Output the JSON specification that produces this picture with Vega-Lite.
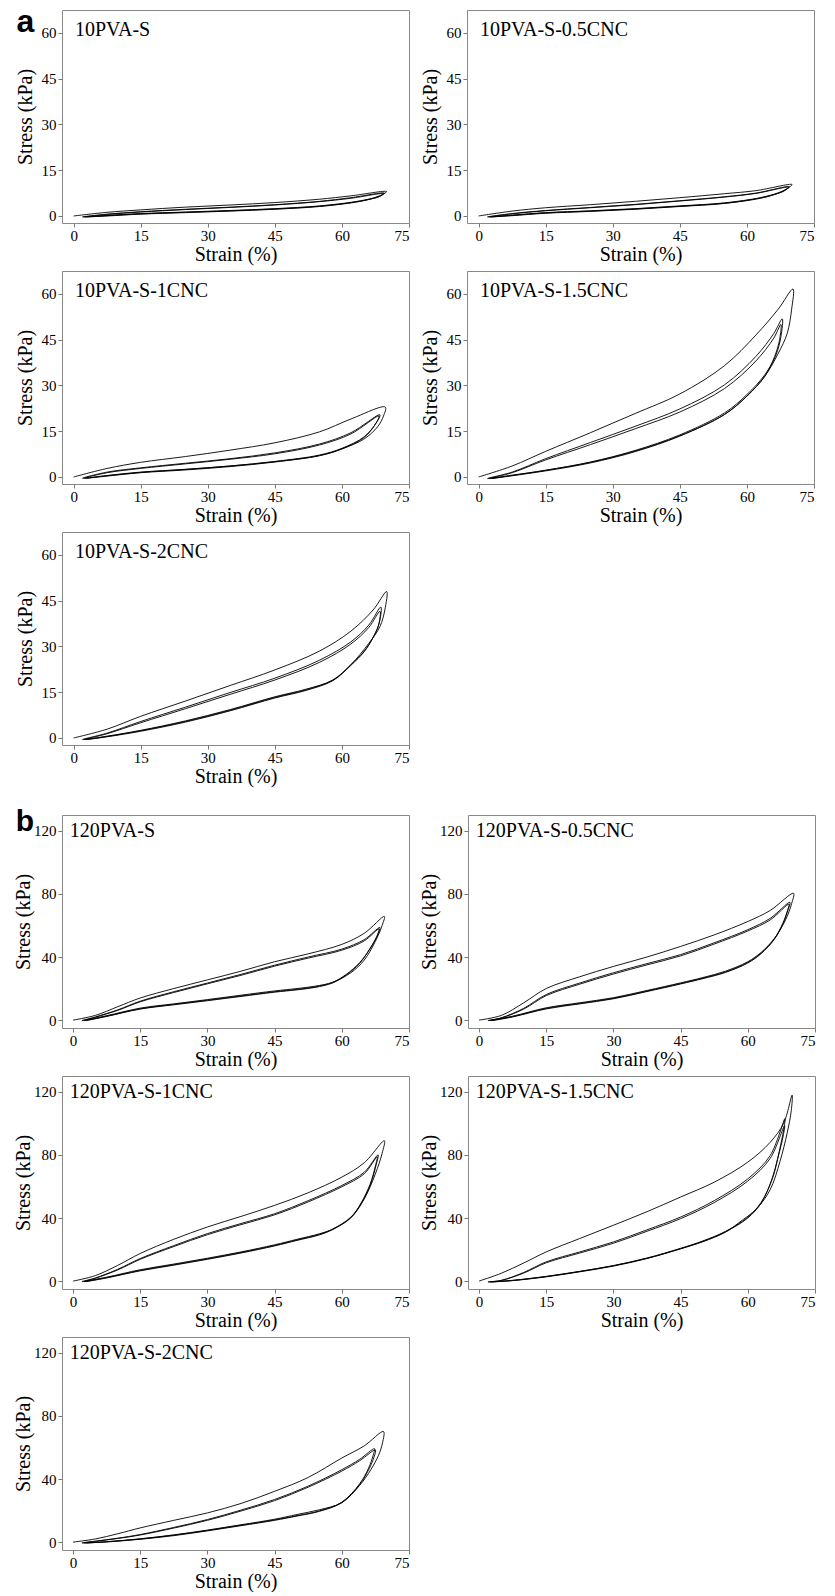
{
"$schema": "https://vega.github.io/schema/vega-lite/v6.json",
"padding": {"left": 13, "top": 5, "right": 3, "bottom": 0},
"background": "white",
"config": {
  "font": "Liberation Serif",
  "view": {"stroke": "#888888", "strokeWidth": 1},
  "axis": {"domain": false, "grid": false, "tickColor": "#777777", "tickSize": 4, "labelFont": "Liberation Serif", "labelFontSize": 15, "labelColor": "#000000", "titleFont": "Liberation Serif", "titleFontSize": 20, "titleFontWeight": "normal", "titleColor": "#000000", "labelPadding": 2, "titlePadding": 3},
  "axisX": {"labelPadding": 1, "titlePadding": 1},
  "line": {"interpolate": "catmull-rom", "stroke": "#000000", "strokeWidth": 0.9},
  "text": {"align": "left", "baseline": "alphabetic", "font": "Liberation Serif", "fontSize": 20, "color": "#000000"}
},
"datasets": {"d": [
{"g":"a","s":"10PVA-S","o":1,"x":0,"y":0},{"g":"a","s":"10PVA-S","o":2,"x":7.5,"y":1.2},{"g":"a","s":"10PVA-S","o":3,"x":15,"y":2.0},{"g":"a","s":"10PVA-S","o":4,"x":25,"y":2.9},{"g":"a","s":"10PVA-S","o":5,"x":35,"y":3.6},{"g":"a","s":"10PVA-S","o":6,"x":45,"y":4.4},{"g":"a","s":"10PVA-S","o":7,"x":55,"y":5.5},{"g":"a","s":"10PVA-S","o":8,"x":62,"y":6.6},{"g":"a","s":"10PVA-S","o":9,"x":70,"y":8.0},{"g":"a","s":"10PVA-S","o":10,"x":69,"y":7.0},{"g":"a","s":"10PVA-S","o":11,"x":67,"y":5.9},{"g":"a","s":"10PVA-S","o":12,"x":63,"y":4.7},{"g":"a","s":"10PVA-S","o":13,"x":55,"y":3.3},{"g":"a","s":"10PVA-S","o":14,"x":45,"y":2.4},{"g":"a","s":"10PVA-S","o":15,"x":35,"y":1.8},{"g":"a","s":"10PVA-S","o":16,"x":25,"y":1.3},{"g":"a","s":"10PVA-S","o":17,"x":15,"y":0.8},{"g":"a","s":"10PVA-S","o":18,"x":7.5,"y":0.2},{"g":"a","s":"10PVA-S","o":19,"x":2,"y":-0.3},
{"g":"a","s":"10PVA-S","o":20,"x":7.5,"y":0.6},{"g":"a","s":"10PVA-S","o":21,"x":15,"y":1.4},{"g":"a","s":"10PVA-S","o":22,"x":25,"y":2.2},{"g":"a","s":"10PVA-S","o":23,"x":35,"y":2.9},{"g":"a","s":"10PVA-S","o":24,"x":45,"y":3.7},{"g":"a","s":"10PVA-S","o":25,"x":55,"y":4.8},{"g":"a","s":"10PVA-S","o":26,"x":62,"y":6.0},{"g":"a","s":"10PVA-S","o":27,"x":69.5,"y":7.5},{"g":"a","s":"10PVA-S","o":28,"x":68.5,"y":6.5},{"g":"a","s":"10PVA-S","o":29,"x":66.5,"y":5.6},{"g":"a","s":"10PVA-S","o":30,"x":63,"y":4.6},{"g":"a","s":"10PVA-S","o":31,"x":55,"y":3.2},{"g":"a","s":"10PVA-S","o":32,"x":45,"y":2.3},{"g":"a","s":"10PVA-S","o":33,"x":35,"y":1.7},{"g":"a","s":"10PVA-S","o":34,"x":25,"y":1.2},{"g":"a","s":"10PVA-S","o":35,"x":15,"y":0.7},{"g":"a","s":"10PVA-S","o":36,"x":7.5,"y":0.1},{"g":"a","s":"10PVA-S","o":37,"x":2.5,"y":-0.3},
{"g":"a","s":"10PVA-S","o":38,"x":7.5,"y":0.5},{"g":"a","s":"10PVA-S","o":39,"x":15,"y":1.3},{"g":"a","s":"10PVA-S","o":40,"x":25,"y":2.1},{"g":"a","s":"10PVA-S","o":41,"x":35,"y":2.8},{"g":"a","s":"10PVA-S","o":42,"x":45,"y":3.6},{"g":"a","s":"10PVA-S","o":43,"x":55,"y":4.7},{"g":"a","s":"10PVA-S","o":44,"x":62,"y":5.8},{"g":"a","s":"10PVA-S","o":45,"x":69.3,"y":7.3},{"g":"a","s":"10PVA-S","o":46,"x":68.3,"y":6.3},{"g":"a","s":"10PVA-S","o":47,"x":66.3,"y":5.5},{"g":"a","s":"10PVA-S","o":48,"x":63,"y":4.5},{"g":"a","s":"10PVA-S","o":49,"x":55,"y":3.1},{"g":"a","s":"10PVA-S","o":50,"x":45,"y":2.2},{"g":"a","s":"10PVA-S","o":51,"x":35,"y":1.6},{"g":"a","s":"10PVA-S","o":52,"x":25,"y":1.1},{"g":"a","s":"10PVA-S","o":53,"x":15,"y":0.6},{"g":"a","s":"10PVA-S","o":54,"x":7.5,"y":0.0},{"g":"a","s":"10PVA-S","o":55,"x":3,"y":-0.3},

{"g":"a","s":"10PVA-S-0.5CNC","o":1,"x":0,"y":0},{"g":"a","s":"10PVA-S-0.5CNC","o":2,"x":7.5,"y":1.6},{"g":"a","s":"10PVA-S-0.5CNC","o":3,"x":15,"y":2.7},{"g":"a","s":"10PVA-S-0.5CNC","o":4,"x":25,"y":3.7},{"g":"a","s":"10PVA-S-0.5CNC","o":5,"x":35,"y":4.8},{"g":"a","s":"10PVA-S-0.5CNC","o":6,"x":45,"y":6.0},{"g":"a","s":"10PVA-S-0.5CNC","o":7,"x":55,"y":7.3},{"g":"a","s":"10PVA-S-0.5CNC","o":8,"x":62,"y":8.3},{"g":"a","s":"10PVA-S-0.5CNC","o":9,"x":70.1,"y":10.3},{"g":"a","s":"10PVA-S-0.5CNC","o":10,"x":69,"y":9.0},{"g":"a","s":"10PVA-S-0.5CNC","o":11,"x":67,"y":7.6},{"g":"a","s":"10PVA-S-0.5CNC","o":12,"x":63,"y":6.0},{"g":"a","s":"10PVA-S-0.5CNC","o":13,"x":55,"y":4.3},{"g":"a","s":"10PVA-S-0.5CNC","o":14,"x":45,"y":3.3},{"g":"a","s":"10PVA-S-0.5CNC","o":15,"x":35,"y":2.4},{"g":"a","s":"10PVA-S-0.5CNC","o":16,"x":25,"y":1.7},{"g":"a","s":"10PVA-S-0.5CNC","o":17,"x":15,"y":1.1},{"g":"a","s":"10PVA-S-0.5CNC","o":18,"x":7.5,"y":0.3},{"g":"a","s":"10PVA-S-0.5CNC","o":19,"x":2,"y":-0.3},
{"g":"a","s":"10PVA-S-0.5CNC","o":20,"x":7.5,"y":0.8},{"g":"a","s":"10PVA-S-0.5CNC","o":21,"x":15,"y":1.8},{"g":"a","s":"10PVA-S-0.5CNC","o":22,"x":25,"y":2.8},{"g":"a","s":"10PVA-S-0.5CNC","o":23,"x":35,"y":3.8},{"g":"a","s":"10PVA-S-0.5CNC","o":24,"x":45,"y":5.0},{"g":"a","s":"10PVA-S-0.5CNC","o":25,"x":55,"y":6.3},{"g":"a","s":"10PVA-S-0.5CNC","o":26,"x":62,"y":7.5},{"g":"a","s":"10PVA-S-0.5CNC","o":27,"x":69.5,"y":9.6},{"g":"a","s":"10PVA-S-0.5CNC","o":28,"x":68.5,"y":8.4},{"g":"a","s":"10PVA-S-0.5CNC","o":29,"x":66.5,"y":7.2},{"g":"a","s":"10PVA-S-0.5CNC","o":30,"x":63,"y":5.9},{"g":"a","s":"10PVA-S-0.5CNC","o":31,"x":55,"y":4.2},{"g":"a","s":"10PVA-S-0.5CNC","o":32,"x":45,"y":3.2},{"g":"a","s":"10PVA-S-0.5CNC","o":33,"x":35,"y":2.3},{"g":"a","s":"10PVA-S-0.5CNC","o":34,"x":25,"y":1.6},{"g":"a","s":"10PVA-S-0.5CNC","o":35,"x":15,"y":1.0},{"g":"a","s":"10PVA-S-0.5CNC","o":36,"x":7.5,"y":0.2},{"g":"a","s":"10PVA-S-0.5CNC","o":37,"x":2.5,"y":-0.3},
{"g":"a","s":"10PVA-S-0.5CNC","o":38,"x":7.5,"y":0.7},{"g":"a","s":"10PVA-S-0.5CNC","o":39,"x":15,"y":1.7},{"g":"a","s":"10PVA-S-0.5CNC","o":40,"x":25,"y":2.7},{"g":"a","s":"10PVA-S-0.5CNC","o":41,"x":35,"y":3.7},{"g":"a","s":"10PVA-S-0.5CNC","o":42,"x":45,"y":4.9},{"g":"a","s":"10PVA-S-0.5CNC","o":43,"x":55,"y":6.2},{"g":"a","s":"10PVA-S-0.5CNC","o":44,"x":62,"y":7.4},{"g":"a","s":"10PVA-S-0.5CNC","o":45,"x":69.3,"y":9.4},{"g":"a","s":"10PVA-S-0.5CNC","o":46,"x":68.3,"y":8.2},{"g":"a","s":"10PVA-S-0.5CNC","o":47,"x":66.3,"y":7.1},{"g":"a","s":"10PVA-S-0.5CNC","o":48,"x":63,"y":5.8},{"g":"a","s":"10PVA-S-0.5CNC","o":49,"x":55,"y":4.1},{"g":"a","s":"10PVA-S-0.5CNC","o":50,"x":45,"y":3.1},{"g":"a","s":"10PVA-S-0.5CNC","o":51,"x":35,"y":2.2},{"g":"a","s":"10PVA-S-0.5CNC","o":52,"x":25,"y":1.5},{"g":"a","s":"10PVA-S-0.5CNC","o":53,"x":15,"y":0.9},{"g":"a","s":"10PVA-S-0.5CNC","o":54,"x":7.5,"y":0.1},{"g":"a","s":"10PVA-S-0.5CNC","o":55,"x":3,"y":-0.3},

{"g":"a","s":"10PVA-S-1CNC","o":1,"x":0,"y":0},{"g":"a","s":"10PVA-S-1CNC","o":2,"x":7.5,"y":2.8},{"g":"a","s":"10PVA-S-1CNC","o":3,"x":15,"y":4.8},{"g":"a","s":"10PVA-S-1CNC","o":4,"x":25,"y":6.7},{"g":"a","s":"10PVA-S-1CNC","o":5,"x":35,"y":8.8},{"g":"a","s":"10PVA-S-1CNC","o":6,"x":45,"y":11.2},{"g":"a","s":"10PVA-S-1CNC","o":7,"x":55,"y":14.8},{"g":"a","s":"10PVA-S-1CNC","o":8,"x":62,"y":19.0},{"g":"a","s":"10PVA-S-1CNC","o":9,"x":69.7,"y":22.9},{"g":"a","s":"10PVA-S-1CNC","o":10,"x":69.3,"y":20.0},{"g":"a","s":"10PVA-S-1CNC","o":11,"x":68,"y":16.5},{"g":"a","s":"10PVA-S-1CNC","o":12,"x":65,"y":12.5},{"g":"a","s":"10PVA-S-1CNC","o":13,"x":60,"y":9.2},{"g":"a","s":"10PVA-S-1CNC","o":14,"x":55,"y":7.0},{"g":"a","s":"10PVA-S-1CNC","o":15,"x":45,"y":5.0},{"g":"a","s":"10PVA-S-1CNC","o":16,"x":35,"y":3.6},{"g":"a","s":"10PVA-S-1CNC","o":17,"x":25,"y":2.5},{"g":"a","s":"10PVA-S-1CNC","o":18,"x":15,"y":1.6},{"g":"a","s":"10PVA-S-1CNC","o":19,"x":7.5,"y":0.5},{"g":"a","s":"10PVA-S-1CNC","o":20,"x":2,"y":-0.4},
{"g":"a","s":"10PVA-S-1CNC","o":21,"x":7.5,"y":1.6},{"g":"a","s":"10PVA-S-1CNC","o":22,"x":15,"y":3.0},{"g":"a","s":"10PVA-S-1CNC","o":23,"x":25,"y":4.5},{"g":"a","s":"10PVA-S-1CNC","o":24,"x":35,"y":6.0},{"g":"a","s":"10PVA-S-1CNC","o":25,"x":45,"y":7.9},{"g":"a","s":"10PVA-S-1CNC","o":26,"x":55,"y":10.8},{"g":"a","s":"10PVA-S-1CNC","o":27,"x":62,"y":14.5},{"g":"a","s":"10PVA-S-1CNC","o":28,"x":68.5,"y":20.4},{"g":"a","s":"10PVA-S-1CNC","o":29,"x":67.8,"y":18.0},{"g":"a","s":"10PVA-S-1CNC","o":30,"x":65,"y":13.2},{"g":"a","s":"10PVA-S-1CNC","o":31,"x":60,"y":9.4},{"g":"a","s":"10PVA-S-1CNC","o":32,"x":55,"y":7.2},{"g":"a","s":"10PVA-S-1CNC","o":33,"x":45,"y":5.1},{"g":"a","s":"10PVA-S-1CNC","o":34,"x":35,"y":3.6},{"g":"a","s":"10PVA-S-1CNC","o":35,"x":25,"y":2.5},{"g":"a","s":"10PVA-S-1CNC","o":36,"x":15,"y":1.5},{"g":"a","s":"10PVA-S-1CNC","o":37,"x":7.5,"y":0.4},{"g":"a","s":"10PVA-S-1CNC","o":38,"x":2.5,"y":-0.4},
{"g":"a","s":"10PVA-S-1CNC","o":39,"x":7.5,"y":1.4},{"g":"a","s":"10PVA-S-1CNC","o":40,"x":15,"y":2.8},{"g":"a","s":"10PVA-S-1CNC","o":41,"x":25,"y":4.3},{"g":"a","s":"10PVA-S-1CNC","o":42,"x":35,"y":5.8},{"g":"a","s":"10PVA-S-1CNC","o":43,"x":45,"y":7.6},{"g":"a","s":"10PVA-S-1CNC","o":44,"x":55,"y":10.5},{"g":"a","s":"10PVA-S-1CNC","o":45,"x":62,"y":14.1},{"g":"a","s":"10PVA-S-1CNC","o":46,"x":68.3,"y":20.0},{"g":"a","s":"10PVA-S-1CNC","o":47,"x":67.6,"y":17.6},{"g":"a","s":"10PVA-S-1CNC","o":48,"x":65,"y":13.0},{"g":"a","s":"10PVA-S-1CNC","o":49,"x":60,"y":9.2},{"g":"a","s":"10PVA-S-1CNC","o":50,"x":55,"y":7.0},{"g":"a","s":"10PVA-S-1CNC","o":51,"x":45,"y":4.9},{"g":"a","s":"10PVA-S-1CNC","o":52,"x":35,"y":3.4},{"g":"a","s":"10PVA-S-1CNC","o":53,"x":25,"y":2.3},{"g":"a","s":"10PVA-S-1CNC","o":54,"x":15,"y":1.4},{"g":"a","s":"10PVA-S-1CNC","o":55,"x":7.5,"y":0.3},{"g":"a","s":"10PVA-S-1CNC","o":56,"x":3,"y":-0.4},

{"g":"a","s":"10PVA-S-1.5CNC","o":1,"x":0,"y":0},{"g":"a","s":"10PVA-S-1.5CNC","o":2,"x":7.5,"y":3.6},{"g":"a","s":"10PVA-S-1.5CNC","o":3,"x":15,"y":8.4},{"g":"a","s":"10PVA-S-1.5CNC","o":4,"x":25,"y":14.5},{"g":"a","s":"10PVA-S-1.5CNC","o":5,"x":35,"y":20.8},{"g":"a","s":"10PVA-S-1.5CNC","o":6,"x":45,"y":27.2},{"g":"a","s":"10PVA-S-1.5CNC","o":7,"x":55,"y":36.5},{"g":"a","s":"10PVA-S-1.5CNC","o":8,"x":62,"y":46.5},{"g":"a","s":"10PVA-S-1.5CNC","o":9,"x":67,"y":55},{"g":"a","s":"10PVA-S-1.5CNC","o":10,"x":70.3,"y":61.6},{"g":"a","s":"10PVA-S-1.5CNC","o":11,"x":70,"y":55},{"g":"a","s":"10PVA-S-1.5CNC","o":12,"x":69,"y":47},{"g":"a","s":"10PVA-S-1.5CNC","o":13,"x":67,"y":40.5},{"g":"a","s":"10PVA-S-1.5CNC","o":14,"x":64,"y":33},{"g":"a","s":"10PVA-S-1.5CNC","o":15,"x":60,"y":26.5},{"g":"a","s":"10PVA-S-1.5CNC","o":16,"x":55,"y":20.5},{"g":"a","s":"10PVA-S-1.5CNC","o":17,"x":45,"y":13.5},{"g":"a","s":"10PVA-S-1.5CNC","o":18,"x":35,"y":8.5},{"g":"a","s":"10PVA-S-1.5CNC","o":19,"x":25,"y":4.8},{"g":"a","s":"10PVA-S-1.5CNC","o":20,"x":15,"y":2.2},{"g":"a","s":"10PVA-S-1.5CNC","o":21,"x":7.5,"y":0.6},{"g":"a","s":"10PVA-S-1.5CNC","o":22,"x":2,"y":-0.5},
{"g":"a","s":"10PVA-S-1.5CNC","o":23,"x":7.5,"y":1.6},{"g":"a","s":"10PVA-S-1.5CNC","o":24,"x":15,"y":6.0},{"g":"a","s":"10PVA-S-1.5CNC","o":25,"x":25,"y":11.3},{"g":"a","s":"10PVA-S-1.5CNC","o":26,"x":35,"y":16.6},{"g":"a","s":"10PVA-S-1.5CNC","o":27,"x":45,"y":22.3},{"g":"a","s":"10PVA-S-1.5CNC","o":28,"x":55,"y":30.2},{"g":"a","s":"10PVA-S-1.5CNC","o":29,"x":62,"y":39.5},{"g":"a","s":"10PVA-S-1.5CNC","o":30,"x":66,"y":47},{"g":"a","s":"10PVA-S-1.5CNC","o":31,"x":67.9,"y":51.8},{"g":"a","s":"10PVA-S-1.5CNC","o":32,"x":67.6,"y":46},{"g":"a","s":"10PVA-S-1.5CNC","o":33,"x":66.5,"y":40},{"g":"a","s":"10PVA-S-1.5CNC","o":34,"x":64,"y":33.5},{"g":"a","s":"10PVA-S-1.5CNC","o":35,"x":60,"y":27},{"g":"a","s":"10PVA-S-1.5CNC","o":36,"x":55,"y":21},{"g":"a","s":"10PVA-S-1.5CNC","o":37,"x":45,"y":13.8},{"g":"a","s":"10PVA-S-1.5CNC","o":38,"x":35,"y":8.7},{"g":"a","s":"10PVA-S-1.5CNC","o":39,"x":25,"y":4.9},{"g":"a","s":"10PVA-S-1.5CNC","o":40,"x":15,"y":2.2},{"g":"a","s":"10PVA-S-1.5CNC","o":41,"x":7.5,"y":0.5},{"g":"a","s":"10PVA-S-1.5CNC","o":42,"x":2.5,"y":-0.5},
{"g":"a","s":"10PVA-S-1.5CNC","o":43,"x":7.5,"y":1.4},{"g":"a","s":"10PVA-S-1.5CNC","o":44,"x":15,"y":5.6},{"g":"a","s":"10PVA-S-1.5CNC","o":45,"x":25,"y":10.6},{"g":"a","s":"10PVA-S-1.5CNC","o":46,"x":35,"y":15.8},{"g":"a","s":"10PVA-S-1.5CNC","o":47,"x":45,"y":21.3},{"g":"a","s":"10PVA-S-1.5CNC","o":48,"x":55,"y":29},{"g":"a","s":"10PVA-S-1.5CNC","o":49,"x":62,"y":38},{"g":"a","s":"10PVA-S-1.5CNC","o":50,"x":66,"y":45.5},{"g":"a","s":"10PVA-S-1.5CNC","o":51,"x":67.6,"y":50},{"g":"a","s":"10PVA-S-1.5CNC","o":52,"x":67.3,"y":45},{"g":"a","s":"10PVA-S-1.5CNC","o":53,"x":66.2,"y":39.5},{"g":"a","s":"10PVA-S-1.5CNC","o":54,"x":64,"y":33},{"g":"a","s":"10PVA-S-1.5CNC","o":55,"x":60,"y":26.5},{"g":"a","s":"10PVA-S-1.5CNC","o":56,"x":55,"y":20.5},{"g":"a","s":"10PVA-S-1.5CNC","o":57,"x":45,"y":13.4},{"g":"a","s":"10PVA-S-1.5CNC","o":58,"x":35,"y":8.3},{"g":"a","s":"10PVA-S-1.5CNC","o":59,"x":25,"y":4.6},{"g":"a","s":"10PVA-S-1.5CNC","o":60,"x":15,"y":2.0},{"g":"a","s":"10PVA-S-1.5CNC","o":61,"x":7.5,"y":0.4},{"g":"a","s":"10PVA-S-1.5CNC","o":62,"x":3,"y":-0.5},

{"g":"a","s":"10PVA-S-2CNC","o":1,"x":0,"y":0},{"g":"a","s":"10PVA-S-2CNC","o":2,"x":7.5,"y":2.9},{"g":"a","s":"10PVA-S-2CNC","o":3,"x":15,"y":7.1},{"g":"a","s":"10PVA-S-2CNC","o":4,"x":25,"y":12.1},{"g":"a","s":"10PVA-S-2CNC","o":5,"x":35,"y":17.2},{"g":"a","s":"10PVA-S-2CNC","o":6,"x":45,"y":22.3},{"g":"a","s":"10PVA-S-2CNC","o":7,"x":55,"y":28.5},{"g":"a","s":"10PVA-S-2CNC","o":8,"x":62,"y":35},{"g":"a","s":"10PVA-S-2CNC","o":9,"x":67,"y":42},{"g":"a","s":"10PVA-S-2CNC","o":10,"x":70,"y":48},{"g":"a","s":"10PVA-S-2CNC","o":11,"x":69.6,"y":42},{"g":"a","s":"10PVA-S-2CNC","o":12,"x":68.5,"y":36.5},{"g":"a","s":"10PVA-S-2CNC","o":13,"x":66,"y":31},{"g":"a","s":"10PVA-S-2CNC","o":14,"x":62,"y":24},{"g":"a","s":"10PVA-S-2CNC","o":15,"x":58,"y":19},{"g":"a","s":"10PVA-S-2CNC","o":16,"x":52,"y":16},{"g":"a","s":"10PVA-S-2CNC","o":17,"x":45,"y":13.5},{"g":"a","s":"10PVA-S-2CNC","o":18,"x":35,"y":9.3},{"g":"a","s":"10PVA-S-2CNC","o":19,"x":25,"y":5.6},{"g":"a","s":"10PVA-S-2CNC","o":20,"x":15,"y":2.5},{"g":"a","s":"10PVA-S-2CNC","o":21,"x":7.5,"y":0.6},{"g":"a","s":"10PVA-S-2CNC","o":22,"x":2,"y":-0.5},
{"g":"a","s":"10PVA-S-2CNC","o":23,"x":7.5,"y":1.6},{"g":"a","s":"10PVA-S-2CNC","o":24,"x":15,"y":5.4},{"g":"a","s":"10PVA-S-2CNC","o":25,"x":25,"y":10.1},{"g":"a","s":"10PVA-S-2CNC","o":26,"x":35,"y":14.9},{"g":"a","s":"10PVA-S-2CNC","o":27,"x":45,"y":19.6},{"g":"a","s":"10PVA-S-2CNC","o":28,"x":55,"y":25.5},{"g":"a","s":"10PVA-S-2CNC","o":29,"x":62,"y":31.5},{"g":"a","s":"10PVA-S-2CNC","o":30,"x":66,"y":37},{"g":"a","s":"10PVA-S-2CNC","o":31,"x":68.7,"y":42.9},{"g":"a","s":"10PVA-S-2CNC","o":32,"x":68.4,"y":38},{"g":"a","s":"10PVA-S-2CNC","o":33,"x":67,"y":33},{"g":"a","s":"10PVA-S-2CNC","o":34,"x":65,"y":28.5},{"g":"a","s":"10PVA-S-2CNC","o":35,"x":62,"y":24},{"g":"a","s":"10PVA-S-2CNC","o":36,"x":58,"y":19},{"g":"a","s":"10PVA-S-2CNC","o":37,"x":52,"y":15.8},{"g":"a","s":"10PVA-S-2CNC","o":38,"x":45,"y":13.3},{"g":"a","s":"10PVA-S-2CNC","o":39,"x":35,"y":9.1},{"g":"a","s":"10PVA-S-2CNC","o":40,"x":25,"y":5.4},{"g":"a","s":"10PVA-S-2CNC","o":41,"x":15,"y":2.4},{"g":"a","s":"10PVA-S-2CNC","o":42,"x":7.5,"y":0.5},{"g":"a","s":"10PVA-S-2CNC","o":43,"x":2.5,"y":-0.5},
{"g":"a","s":"10PVA-S-2CNC","o":44,"x":7.5,"y":1.4},{"g":"a","s":"10PVA-S-2CNC","o":45,"x":15,"y":5.0},{"g":"a","s":"10PVA-S-2CNC","o":46,"x":25,"y":9.6},{"g":"a","s":"10PVA-S-2CNC","o":47,"x":35,"y":14.3},{"g":"a","s":"10PVA-S-2CNC","o":48,"x":45,"y":19.0},{"g":"a","s":"10PVA-S-2CNC","o":49,"x":55,"y":24.8},{"g":"a","s":"10PVA-S-2CNC","o":50,"x":62,"y":30.8},{"g":"a","s":"10PVA-S-2CNC","o":51,"x":66,"y":36.2},{"g":"a","s":"10PVA-S-2CNC","o":52,"x":68.5,"y":41.5},{"g":"a","s":"10PVA-S-2CNC","o":53,"x":68.2,"y":37},{"g":"a","s":"10PVA-S-2CNC","o":54,"x":66.8,"y":32.5},{"g":"a","s":"10PVA-S-2CNC","o":55,"x":65,"y":28.3},{"g":"a","s":"10PVA-S-2CNC","o":56,"x":62,"y":23.8},{"g":"a","s":"10PVA-S-2CNC","o":57,"x":58,"y":18.8},{"g":"a","s":"10PVA-S-2CNC","o":58,"x":52,"y":15.6},{"g":"a","s":"10PVA-S-2CNC","o":59,"x":45,"y":13.1},{"g":"a","s":"10PVA-S-2CNC","o":60,"x":35,"y":8.9},{"g":"a","s":"10PVA-S-2CNC","o":61,"x":25,"y":5.2},{"g":"a","s":"10PVA-S-2CNC","o":62,"x":15,"y":2.2},{"g":"a","s":"10PVA-S-2CNC","o":63,"x":7.5,"y":0.4},{"g":"a","s":"10PVA-S-2CNC","o":64,"x":3,"y":-0.5},

{"g":"b","s":"120PVA-S","o":1,"x":0,"y":0},{"g":"b","s":"120PVA-S","o":2,"x":5,"y":3},{"g":"b","s":"120PVA-S","o":3,"x":10,"y":8.5},{"g":"b","s":"120PVA-S","o":4,"x":15,"y":14},{"g":"b","s":"120PVA-S","o":5,"x":22.5,"y":20},{"g":"b","s":"120PVA-S","o":6,"x":30,"y":25.5},{"g":"b","s":"120PVA-S","o":7,"x":37.5,"y":31},{"g":"b","s":"120PVA-S","o":8,"x":45,"y":37},{"g":"b","s":"120PVA-S","o":9,"x":52.5,"y":42},{"g":"b","s":"120PVA-S","o":10,"x":60,"y":48},{"g":"b","s":"120PVA-S","o":11,"x":65,"y":55},{"g":"b","s":"120PVA-S","o":12,"x":69.5,"y":65.7},{"g":"b","s":"120PVA-S","o":13,"x":69,"y":60},{"g":"b","s":"120PVA-S","o":14,"x":67.5,"y":50},{"g":"b","s":"120PVA-S","o":15,"x":65,"y":38},{"g":"b","s":"120PVA-S","o":16,"x":62,"y":30},{"g":"b","s":"120PVA-S","o":17,"x":58,"y":24},{"g":"b","s":"120PVA-S","o":18,"x":54,"y":21.5},{"g":"b","s":"120PVA-S","o":19,"x":50,"y":20},{"g":"b","s":"120PVA-S","o":20,"x":45,"y":18.5},{"g":"b","s":"120PVA-S","o":21,"x":37.5,"y":15.8},{"g":"b","s":"120PVA-S","o":22,"x":30,"y":13},{"g":"b","s":"120PVA-S","o":23,"x":22.5,"y":10.3},{"g":"b","s":"120PVA-S","o":24,"x":15,"y":7.6},{"g":"b","s":"120PVA-S","o":25,"x":7.5,"y":2.8},{"g":"b","s":"120PVA-S","o":26,"x":2,"y":-0.3},
{"g":"b","s":"120PVA-S","o":27,"x":5,"y":2},{"g":"b","s":"120PVA-S","o":28,"x":10,"y":6.5},{"g":"b","s":"120PVA-S","o":29,"x":15,"y":12},{"g":"b","s":"120PVA-S","o":30,"x":22.5,"y":18},{"g":"b","s":"120PVA-S","o":31,"x":30,"y":23.5},{"g":"b","s":"120PVA-S","o":32,"x":37.5,"y":29},{"g":"b","s":"120PVA-S","o":33,"x":45,"y":34.8},{"g":"b","s":"120PVA-S","o":34,"x":52.5,"y":40},{"g":"b","s":"120PVA-S","o":35,"x":60,"y":45},{"g":"b","s":"120PVA-S","o":36,"x":65,"y":51},{"g":"b","s":"120PVA-S","o":37,"x":68.5,"y":58.7},{"g":"b","s":"120PVA-S","o":38,"x":68,"y":54},{"g":"b","s":"120PVA-S","o":39,"x":66.5,"y":46},{"g":"b","s":"120PVA-S","o":40,"x":64,"y":36.5},{"g":"b","s":"120PVA-S","o":41,"x":61,"y":29},{"g":"b","s":"120PVA-S","o":42,"x":58,"y":24},{"g":"b","s":"120PVA-S","o":43,"x":54,"y":21},{"g":"b","s":"120PVA-S","o":44,"x":50,"y":19.5},{"g":"b","s":"120PVA-S","o":45,"x":45,"y":18},{"g":"b","s":"120PVA-S","o":46,"x":37.5,"y":15.3},{"g":"b","s":"120PVA-S","o":47,"x":30,"y":12.6},{"g":"b","s":"120PVA-S","o":48,"x":22.5,"y":10},{"g":"b","s":"120PVA-S","o":49,"x":15,"y":7.2},{"g":"b","s":"120PVA-S","o":50,"x":7.5,"y":2.5},{"g":"b","s":"120PVA-S","o":51,"x":2.5,"y":-0.3},
{"g":"b","s":"120PVA-S","o":52,"x":5,"y":1.8},{"g":"b","s":"120PVA-S","o":53,"x":10,"y":6.2},{"g":"b","s":"120PVA-S","o":54,"x":15,"y":11.6},{"g":"b","s":"120PVA-S","o":55,"x":22.5,"y":17.5},{"g":"b","s":"120PVA-S","o":56,"x":30,"y":23},{"g":"b","s":"120PVA-S","o":57,"x":37.5,"y":28.4},{"g":"b","s":"120PVA-S","o":58,"x":45,"y":34.2},{"g":"b","s":"120PVA-S","o":59,"x":52.5,"y":39.3},{"g":"b","s":"120PVA-S","o":60,"x":60,"y":44.3},{"g":"b","s":"120PVA-S","o":61,"x":65,"y":50.2},{"g":"b","s":"120PVA-S","o":62,"x":68.3,"y":57.8},{"g":"b","s":"120PVA-S","o":63,"x":67.8,"y":53},{"g":"b","s":"120PVA-S","o":64,"x":66.3,"y":45.5},{"g":"b","s":"120PVA-S","o":65,"x":64,"y":36},{"g":"b","s":"120PVA-S","o":66,"x":61,"y":28.6},{"g":"b","s":"120PVA-S","o":67,"x":58,"y":23.6},{"g":"b","s":"120PVA-S","o":68,"x":54,"y":20.7},{"g":"b","s":"120PVA-S","o":69,"x":50,"y":19.2},{"g":"b","s":"120PVA-S","o":70,"x":45,"y":17.7},{"g":"b","s":"120PVA-S","o":71,"x":37.5,"y":15},{"g":"b","s":"120PVA-S","o":72,"x":30,"y":12.3},{"g":"b","s":"120PVA-S","o":73,"x":22.5,"y":9.7},{"g":"b","s":"120PVA-S","o":74,"x":15,"y":7},{"g":"b","s":"120PVA-S","o":75,"x":7.5,"y":2.3},{"g":"b","s":"120PVA-S","o":76,"x":3,"y":-0.3},

{"g":"b","s":"120PVA-S-0.5CNC","o":1,"x":0,"y":0},{"g":"b","s":"120PVA-S-0.5CNC","o":2,"x":5,"y":3},{"g":"b","s":"120PVA-S-0.5CNC","o":3,"x":10,"y":11},{"g":"b","s":"120PVA-S-0.5CNC","o":4,"x":15,"y":20},{"g":"b","s":"120PVA-S-0.5CNC","o":5,"x":22.5,"y":27.5},{"g":"b","s":"120PVA-S-0.5CNC","o":6,"x":30,"y":34},{"g":"b","s":"120PVA-S-0.5CNC","o":7,"x":37.5,"y":40},{"g":"b","s":"120PVA-S-0.5CNC","o":8,"x":45,"y":46.7},{"g":"b","s":"120PVA-S-0.5CNC","o":9,"x":52.5,"y":54},{"g":"b","s":"120PVA-S-0.5CNC","o":10,"x":60,"y":62.5},{"g":"b","s":"120PVA-S-0.5CNC","o":11,"x":65,"y":69.5},{"g":"b","s":"120PVA-S-0.5CNC","o":12,"x":70.2,"y":80.4},{"g":"b","s":"120PVA-S-0.5CNC","o":13,"x":69.8,"y":74},{"g":"b","s":"120PVA-S-0.5CNC","o":14,"x":68.5,"y":64},{"g":"b","s":"120PVA-S-0.5CNC","o":15,"x":66,"y":52},{"g":"b","s":"120PVA-S-0.5CNC","o":16,"x":63,"y":43},{"g":"b","s":"120PVA-S-0.5CNC","o":17,"x":60,"y":37},{"g":"b","s":"120PVA-S-0.5CNC","o":18,"x":55,"y":31},{"g":"b","s":"120PVA-S-0.5CNC","o":19,"x":50,"y":27},{"g":"b","s":"120PVA-S-0.5CNC","o":20,"x":45,"y":23.6},{"g":"b","s":"120PVA-S-0.5CNC","o":21,"x":37.5,"y":18.8},{"g":"b","s":"120PVA-S-0.5CNC","o":22,"x":30,"y":14.2},{"g":"b","s":"120PVA-S-0.5CNC","o":23,"x":22.5,"y":11},{"g":"b","s":"120PVA-S-0.5CNC","o":24,"x":15,"y":7.8},{"g":"b","s":"120PVA-S-0.5CNC","o":25,"x":7.5,"y":2.5},{"g":"b","s":"120PVA-S-0.5CNC","o":26,"x":2,"y":-0.3},
{"g":"b","s":"120PVA-S-0.5CNC","o":27,"x":5,"y":1.5},{"g":"b","s":"120PVA-S-0.5CNC","o":28,"x":10,"y":7.5},{"g":"b","s":"120PVA-S-0.5CNC","o":29,"x":15,"y":16.2},{"g":"b","s":"120PVA-S-0.5CNC","o":30,"x":22.5,"y":23.5},{"g":"b","s":"120PVA-S-0.5CNC","o":31,"x":30,"y":30},{"g":"b","s":"120PVA-S-0.5CNC","o":32,"x":37.5,"y":35.8},{"g":"b","s":"120PVA-S-0.5CNC","o":33,"x":45,"y":41.5},{"g":"b","s":"120PVA-S-0.5CNC","o":34,"x":52.5,"y":49},{"g":"b","s":"120PVA-S-0.5CNC","o":35,"x":60,"y":57.3},{"g":"b","s":"120PVA-S-0.5CNC","o":36,"x":65,"y":64.5},{"g":"b","s":"120PVA-S-0.5CNC","o":37,"x":69.4,"y":74.7},{"g":"b","s":"120PVA-S-0.5CNC","o":38,"x":69,"y":70},{"g":"b","s":"120PVA-S-0.5CNC","o":39,"x":68,"y":62},{"g":"b","s":"120PVA-S-0.5CNC","o":40,"x":66,"y":51.5},{"g":"b","s":"120PVA-S-0.5CNC","o":41,"x":63,"y":42.5},{"g":"b","s":"120PVA-S-0.5CNC","o":42,"x":60,"y":36.5},{"g":"b","s":"120PVA-S-0.5CNC","o":43,"x":55,"y":30.5},{"g":"b","s":"120PVA-S-0.5CNC","o":44,"x":50,"y":26.6},{"g":"b","s":"120PVA-S-0.5CNC","o":45,"x":45,"y":23.2},{"g":"b","s":"120PVA-S-0.5CNC","o":46,"x":37.5,"y":18.4},{"g":"b","s":"120PVA-S-0.5CNC","o":47,"x":30,"y":13.8},{"g":"b","s":"120PVA-S-0.5CNC","o":48,"x":22.5,"y":10.6},{"g":"b","s":"120PVA-S-0.5CNC","o":49,"x":15,"y":7.4},{"g":"b","s":"120PVA-S-0.5CNC","o":50,"x":7.5,"y":2.2},{"g":"b","s":"120PVA-S-0.5CNC","o":51,"x":2.5,"y":-0.3},
{"g":"b","s":"120PVA-S-0.5CNC","o":52,"x":5,"y":1.3},{"g":"b","s":"120PVA-S-0.5CNC","o":53,"x":10,"y":7.0},{"g":"b","s":"120PVA-S-0.5CNC","o":54,"x":15,"y":15.5},{"g":"b","s":"120PVA-S-0.5CNC","o":55,"x":22.5,"y":22.8},{"g":"b","s":"120PVA-S-0.5CNC","o":56,"x":30,"y":29.2},{"g":"b","s":"120PVA-S-0.5CNC","o":57,"x":37.5,"y":35},{"g":"b","s":"120PVA-S-0.5CNC","o":58,"x":45,"y":40.7},{"g":"b","s":"120PVA-S-0.5CNC","o":59,"x":52.5,"y":48.2},{"g":"b","s":"120PVA-S-0.5CNC","o":60,"x":60,"y":56.5},{"g":"b","s":"120PVA-S-0.5CNC","o":61,"x":65,"y":63.5},{"g":"b","s":"120PVA-S-0.5CNC","o":62,"x":69.2,"y":73.5},{"g":"b","s":"120PVA-S-0.5CNC","o":63,"x":68.8,"y":69},{"g":"b","s":"120PVA-S-0.5CNC","o":64,"x":67.8,"y":61.3},{"g":"b","s":"120PVA-S-0.5CNC","o":65,"x":65.8,"y":51},{"g":"b","s":"120PVA-S-0.5CNC","o":66,"x":63,"y":42.2},{"g":"b","s":"120PVA-S-0.5CNC","o":67,"x":60,"y":36.2},{"g":"b","s":"120PVA-S-0.5CNC","o":68,"x":55,"y":30.2},{"g":"b","s":"120PVA-S-0.5CNC","o":69,"x":50,"y":26.3},{"g":"b","s":"120PVA-S-0.5CNC","o":70,"x":45,"y":22.9},{"g":"b","s":"120PVA-S-0.5CNC","o":71,"x":37.5,"y":18.1},{"g":"b","s":"120PVA-S-0.5CNC","o":72,"x":30,"y":13.5},{"g":"b","s":"120PVA-S-0.5CNC","o":73,"x":22.5,"y":10.3},{"g":"b","s":"120PVA-S-0.5CNC","o":74,"x":15,"y":7.1},{"g":"b","s":"120PVA-S-0.5CNC","o":75,"x":7.5,"y":2},{"g":"b","s":"120PVA-S-0.5CNC","o":76,"x":3,"y":-0.3},

{"g":"b","s":"120PVA-S-1CNC","o":1,"x":0,"y":0},{"g":"b","s":"120PVA-S-1CNC","o":2,"x":5,"y":3.5},{"g":"b","s":"120PVA-S-1CNC","o":3,"x":10,"y":10},{"g":"b","s":"120PVA-S-1CNC","o":4,"x":15,"y":17.5},{"g":"b","s":"120PVA-S-1CNC","o":5,"x":22.5,"y":26.5},{"g":"b","s":"120PVA-S-1CNC","o":6,"x":30,"y":34.3},{"g":"b","s":"120PVA-S-1CNC","o":7,"x":37.5,"y":41},{"g":"b","s":"120PVA-S-1CNC","o":8,"x":45,"y":48},{"g":"b","s":"120PVA-S-1CNC","o":9,"x":52.5,"y":56},{"g":"b","s":"120PVA-S-1CNC","o":10,"x":60,"y":65.9},{"g":"b","s":"120PVA-S-1CNC","o":11,"x":65,"y":75},{"g":"b","s":"120PVA-S-1CNC","o":12,"x":69.5,"y":89},{"g":"b","s":"120PVA-S-1CNC","o":13,"x":69,"y":81},{"g":"b","s":"120PVA-S-1CNC","o":14,"x":67.5,"y":68},{"g":"b","s":"120PVA-S-1CNC","o":15,"x":65,"y":52},{"g":"b","s":"120PVA-S-1CNC","o":16,"x":62,"y":40},{"g":"b","s":"120PVA-S-1CNC","o":17,"x":58,"y":33},{"g":"b","s":"120PVA-S-1CNC","o":18,"x":55,"y":30},{"g":"b","s":"120PVA-S-1CNC","o":19,"x":50,"y":26.5},{"g":"b","s":"120PVA-S-1CNC","o":20,"x":45,"y":23},{"g":"b","s":"120PVA-S-1CNC","o":21,"x":37.5,"y":18.5},{"g":"b","s":"120PVA-S-1CNC","o":22,"x":30,"y":14.5},{"g":"b","s":"120PVA-S-1CNC","o":23,"x":22.5,"y":10.8},{"g":"b","s":"120PVA-S-1CNC","o":24,"x":15,"y":7.2},{"g":"b","s":"120PVA-S-1CNC","o":25,"x":7.5,"y":2.5},{"g":"b","s":"120PVA-S-1CNC","o":26,"x":2,"y":-0.3},
{"g":"b","s":"120PVA-S-1CNC","o":27,"x":5,"y":2},{"g":"b","s":"120PVA-S-1CNC","o":28,"x":10,"y":7.5},{"g":"b","s":"120PVA-S-1CNC","o":29,"x":15,"y":14.3},{"g":"b","s":"120PVA-S-1CNC","o":30,"x":22.5,"y":22.5},{"g":"b","s":"120PVA-S-1CNC","o":31,"x":30,"y":30.1},{"g":"b","s":"120PVA-S-1CNC","o":32,"x":37.5,"y":36.5},{"g":"b","s":"120PVA-S-1CNC","o":33,"x":45,"y":42.7},{"g":"b","s":"120PVA-S-1CNC","o":34,"x":52.5,"y":51},{"g":"b","s":"120PVA-S-1CNC","o":35,"x":60,"y":60.6},{"g":"b","s":"120PVA-S-1CNC","o":36,"x":65,"y":69},{"g":"b","s":"120PVA-S-1CNC","o":37,"x":68.1,"y":80},{"g":"b","s":"120PVA-S-1CNC","o":38,"x":67.7,"y":74},{"g":"b","s":"120PVA-S-1CNC","o":39,"x":66.5,"y":62},{"g":"b","s":"120PVA-S-1CNC","o":40,"x":64.5,"y":50},{"g":"b","s":"120PVA-S-1CNC","o":41,"x":62,"y":40.5},{"g":"b","s":"120PVA-S-1CNC","o":42,"x":58,"y":33},{"g":"b","s":"120PVA-S-1CNC","o":43,"x":55,"y":29.6},{"g":"b","s":"120PVA-S-1CNC","o":44,"x":50,"y":26.1},{"g":"b","s":"120PVA-S-1CNC","o":45,"x":45,"y":22.6},{"g":"b","s":"120PVA-S-1CNC","o":46,"x":37.5,"y":18.1},{"g":"b","s":"120PVA-S-1CNC","o":47,"x":30,"y":14.1},{"g":"b","s":"120PVA-S-1CNC","o":48,"x":22.5,"y":10.4},{"g":"b","s":"120PVA-S-1CNC","o":49,"x":15,"y":6.8},{"g":"b","s":"120PVA-S-1CNC","o":50,"x":7.5,"y":2.2},{"g":"b","s":"120PVA-S-1CNC","o":51,"x":2.5,"y":-0.3},
{"g":"b","s":"120PVA-S-1CNC","o":52,"x":5,"y":1.8},{"g":"b","s":"120PVA-S-1CNC","o":53,"x":10,"y":7.1},{"g":"b","s":"120PVA-S-1CNC","o":54,"x":15,"y":13.8},{"g":"b","s":"120PVA-S-1CNC","o":55,"x":22.5,"y":21.9},{"g":"b","s":"120PVA-S-1CNC","o":56,"x":30,"y":29.4},{"g":"b","s":"120PVA-S-1CNC","o":57,"x":37.5,"y":35.8},{"g":"b","s":"120PVA-S-1CNC","o":58,"x":45,"y":42},{"g":"b","s":"120PVA-S-1CNC","o":59,"x":52.5,"y":50.2},{"g":"b","s":"120PVA-S-1CNC","o":60,"x":60,"y":59.8},{"g":"b","s":"120PVA-S-1CNC","o":61,"x":65,"y":68},{"g":"b","s":"120PVA-S-1CNC","o":62,"x":67.9,"y":78.8},{"g":"b","s":"120PVA-S-1CNC","o":63,"x":67.5,"y":73},{"g":"b","s":"120PVA-S-1CNC","o":64,"x":66.3,"y":61.3},{"g":"b","s":"120PVA-S-1CNC","o":65,"x":64.3,"y":49.5},{"g":"b","s":"120PVA-S-1CNC","o":66,"x":62,"y":40.2},{"g":"b","s":"120PVA-S-1CNC","o":67,"x":58,"y":32.7},{"g":"b","s":"120PVA-S-1CNC","o":68,"x":55,"y":29.3},{"g":"b","s":"120PVA-S-1CNC","o":69,"x":50,"y":25.8},{"g":"b","s":"120PVA-S-1CNC","o":70,"x":45,"y":22.3},{"g":"b","s":"120PVA-S-1CNC","o":71,"x":37.5,"y":17.8},{"g":"b","s":"120PVA-S-1CNC","o":72,"x":30,"y":13.8},{"g":"b","s":"120PVA-S-1CNC","o":73,"x":22.5,"y":10.1},{"g":"b","s":"120PVA-S-1CNC","o":74,"x":15,"y":6.5},{"g":"b","s":"120PVA-S-1CNC","o":75,"x":7.5,"y":2},{"g":"b","s":"120PVA-S-1CNC","o":76,"x":3,"y":-0.3},

{"g":"b","s":"120PVA-S-1.5CNC","o":1,"x":0,"y":0},{"g":"b","s":"120PVA-S-1.5CNC","o":2,"x":5,"y":5},{"g":"b","s":"120PVA-S-1.5CNC","o":3,"x":10,"y":11.5},{"g":"b","s":"120PVA-S-1.5CNC","o":4,"x":15,"y":18.5},{"g":"b","s":"120PVA-S-1.5CNC","o":5,"x":22.5,"y":27},{"g":"b","s":"120PVA-S-1.5CNC","o":6,"x":30,"y":35.4},{"g":"b","s":"120PVA-S-1.5CNC","o":7,"x":37.5,"y":44},{"g":"b","s":"120PVA-S-1.5CNC","o":8,"x":45,"y":53.3},{"g":"b","s":"120PVA-S-1.5CNC","o":9,"x":52.5,"y":62.7},{"g":"b","s":"120PVA-S-1.5CNC","o":10,"x":60,"y":75.4},{"g":"b","s":"120PVA-S-1.5CNC","o":11,"x":65,"y":88},{"g":"b","s":"120PVA-S-1.5CNC","o":12,"x":68,"y":100},{"g":"b","s":"120PVA-S-1.5CNC","o":13,"x":69.9,"y":117.9},{"g":"b","s":"120PVA-S-1.5CNC","o":14,"x":69.7,"y":108},{"g":"b","s":"120PVA-S-1.5CNC","o":15,"x":68.8,"y":94},{"g":"b","s":"120PVA-S-1.5CNC","o":16,"x":67.2,"y":76},{"g":"b","s":"120PVA-S-1.5CNC","o":17,"x":65,"y":58},{"g":"b","s":"120PVA-S-1.5CNC","o":18,"x":62,"y":46},{"g":"b","s":"120PVA-S-1.5CNC","o":19,"x":58,"y":37},{"g":"b","s":"120PVA-S-1.5CNC","o":20,"x":55,"y":31},{"g":"b","s":"120PVA-S-1.5CNC","o":21,"x":50,"y":25},{"g":"b","s":"120PVA-S-1.5CNC","o":22,"x":45,"y":20.5},{"g":"b","s":"120PVA-S-1.5CNC","o":23,"x":37.5,"y":14.5},{"g":"b","s":"120PVA-S-1.5CNC","o":24,"x":30,"y":9.8},{"g":"b","s":"120PVA-S-1.5CNC","o":25,"x":22.5,"y":6.2},{"g":"b","s":"120PVA-S-1.5CNC","o":26,"x":15,"y":3},{"g":"b","s":"120PVA-S-1.5CNC","o":27,"x":7.5,"y":0.5},{"g":"b","s":"120PVA-S-1.5CNC","o":28,"x":2,"y":-0.5},
{"g":"b","s":"120PVA-S-1.5CNC","o":29,"x":5,"y":0.5},{"g":"b","s":"120PVA-S-1.5CNC","o":30,"x":10,"y":5.5},{"g":"b","s":"120PVA-S-1.5CNC","o":31,"x":15,"y":12.2},{"g":"b","s":"120PVA-S-1.5CNC","o":32,"x":22.5,"y":18.5},{"g":"b","s":"120PVA-S-1.5CNC","o":33,"x":30,"y":24.8},{"g":"b","s":"120PVA-S-1.5CNC","o":34,"x":37.5,"y":32.5},{"g":"b","s":"120PVA-S-1.5CNC","o":35,"x":45,"y":40.6},{"g":"b","s":"120PVA-S-1.5CNC","o":36,"x":52.5,"y":51},{"g":"b","s":"120PVA-S-1.5CNC","o":37,"x":60,"y":64.8},{"g":"b","s":"120PVA-S-1.5CNC","o":38,"x":65,"y":79.6},{"g":"b","s":"120PVA-S-1.5CNC","o":39,"x":68.3,"y":103},{"g":"b","s":"120PVA-S-1.5CNC","o":40,"x":68,"y":96},{"g":"b","s":"120PVA-S-1.5CNC","o":41,"x":67,"y":82},{"g":"b","s":"120PVA-S-1.5CNC","o":42,"x":65.5,"y":65},{"g":"b","s":"120PVA-S-1.5CNC","o":43,"x":63,"y":50},{"g":"b","s":"120PVA-S-1.5CNC","o":44,"x":60,"y":40.5},{"g":"b","s":"120PVA-S-1.5CNC","o":45,"x":55,"y":31.5},{"g":"b","s":"120PVA-S-1.5CNC","o":46,"x":50,"y":25.5},{"g":"b","s":"120PVA-S-1.5CNC","o":47,"x":45,"y":20.8},{"g":"b","s":"120PVA-S-1.5CNC","o":48,"x":37.5,"y":14.6},{"g":"b","s":"120PVA-S-1.5CNC","o":49,"x":30,"y":9.8},{"g":"b","s":"120PVA-S-1.5CNC","o":50,"x":22.5,"y":6.1},{"g":"b","s":"120PVA-S-1.5CNC","o":51,"x":15,"y":2.9},{"g":"b","s":"120PVA-S-1.5CNC","o":52,"x":7.5,"y":0.4},{"g":"b","s":"120PVA-S-1.5CNC","o":53,"x":2.5,"y":-0.5},
{"g":"b","s":"120PVA-S-1.5CNC","o":54,"x":5,"y":0.4},{"g":"b","s":"120PVA-S-1.5CNC","o":55,"x":10,"y":5.1},{"g":"b","s":"120PVA-S-1.5CNC","o":56,"x":15,"y":11.6},{"g":"b","s":"120PVA-S-1.5CNC","o":57,"x":22.5,"y":17.8},{"g":"b","s":"120PVA-S-1.5CNC","o":58,"x":30,"y":24},{"g":"b","s":"120PVA-S-1.5CNC","o":59,"x":37.5,"y":31.6},{"g":"b","s":"120PVA-S-1.5CNC","o":60,"x":45,"y":39.6},{"g":"b","s":"120PVA-S-1.5CNC","o":61,"x":52.5,"y":49.8},{"g":"b","s":"120PVA-S-1.5CNC","o":62,"x":60,"y":63.4},{"g":"b","s":"120PVA-S-1.5CNC","o":63,"x":65,"y":77.8},{"g":"b","s":"120PVA-S-1.5CNC","o":64,"x":68.2,"y":98.5},{"g":"b","s":"120PVA-S-1.5CNC","o":65,"x":67.9,"y":92},{"g":"b","s":"120PVA-S-1.5CNC","o":66,"x":66.8,"y":79},{"g":"b","s":"120PVA-S-1.5CNC","o":67,"x":65.3,"y":64},{"g":"b","s":"120PVA-S-1.5CNC","o":68,"x":63,"y":49.5},{"g":"b","s":"120PVA-S-1.5CNC","o":69,"x":60,"y":40},{"g":"b","s":"120PVA-S-1.5CNC","o":70,"x":55,"y":31.2},{"g":"b","s":"120PVA-S-1.5CNC","o":71,"x":50,"y":25.2},{"g":"b","s":"120PVA-S-1.5CNC","o":72,"x":45,"y":20.5},{"g":"b","s":"120PVA-S-1.5CNC","o":73,"x":37.5,"y":14.3},{"g":"b","s":"120PVA-S-1.5CNC","o":74,"x":30,"y":9.5},{"g":"b","s":"120PVA-S-1.5CNC","o":75,"x":22.5,"y":5.9},{"g":"b","s":"120PVA-S-1.5CNC","o":76,"x":15,"y":2.7},{"g":"b","s":"120PVA-S-1.5CNC","o":77,"x":7.5,"y":0.3},{"g":"b","s":"120PVA-S-1.5CNC","o":78,"x":3,"y":-0.5},

{"g":"b","s":"120PVA-S-2CNC","o":1,"x":0,"y":0},{"g":"b","s":"120PVA-S-2CNC","o":2,"x":5,"y":2.0},{"g":"b","s":"120PVA-S-2CNC","o":3,"x":10,"y":5.3},{"g":"b","s":"120PVA-S-2CNC","o":4,"x":15,"y":9},{"g":"b","s":"120PVA-S-2CNC","o":5,"x":22.5,"y":13.8},{"g":"b","s":"120PVA-S-2CNC","o":6,"x":30,"y":18.5},{"g":"b","s":"120PVA-S-2CNC","o":7,"x":37.5,"y":24.5},{"g":"b","s":"120PVA-S-2CNC","o":8,"x":45,"y":32.2},{"g":"b","s":"120PVA-S-2CNC","o":9,"x":52.5,"y":41},{"g":"b","s":"120PVA-S-2CNC","o":10,"x":60,"y":53.3},{"g":"b","s":"120PVA-S-2CNC","o":11,"x":65,"y":61},{"g":"b","s":"120PVA-S-2CNC","o":12,"x":69.3,"y":70.1},{"g":"b","s":"120PVA-S-2CNC","o":13,"x":69.1,"y":63},{"g":"b","s":"120PVA-S-2CNC","o":14,"x":68.2,"y":55},{"g":"b","s":"120PVA-S-2CNC","o":15,"x":66.5,"y":46},{"g":"b","s":"120PVA-S-2CNC","o":16,"x":64,"y":36},{"g":"b","s":"120PVA-S-2CNC","o":17,"x":60,"y":25},{"g":"b","s":"120PVA-S-2CNC","o":18,"x":55,"y":20.5},{"g":"b","s":"120PVA-S-2CNC","o":19,"x":50,"y":17.5},{"g":"b","s":"120PVA-S-2CNC","o":20,"x":45,"y":14.5},{"g":"b","s":"120PVA-S-2CNC","o":21,"x":37.5,"y":11},{"g":"b","s":"120PVA-S-2CNC","o":22,"x":30,"y":7.6},{"g":"b","s":"120PVA-S-2CNC","o":23,"x":22.5,"y":4.6},{"g":"b","s":"120PVA-S-2CNC","o":24,"x":15,"y":2.1},{"g":"b","s":"120PVA-S-2CNC","o":25,"x":7.5,"y":0.3},{"g":"b","s":"120PVA-S-2CNC","o":26,"x":2,"y":-0.5},
{"g":"b","s":"120PVA-S-2CNC","o":27,"x":5,"y":0.6},{"g":"b","s":"120PVA-S-2CNC","o":28,"x":10,"y":2.5},{"g":"b","s":"120PVA-S-2CNC","o":29,"x":15,"y":4.8},{"g":"b","s":"120PVA-S-2CNC","o":30,"x":22.5,"y":9.3},{"g":"b","s":"120PVA-S-2CNC","o":31,"x":30,"y":14.3},{"g":"b","s":"120PVA-S-2CNC","o":32,"x":37.5,"y":20.3},{"g":"b","s":"120PVA-S-2CNC","o":33,"x":45,"y":27},{"g":"b","s":"120PVA-S-2CNC","o":34,"x":52.5,"y":35.5},{"g":"b","s":"120PVA-S-2CNC","o":35,"x":60,"y":45.9},{"g":"b","s":"120PVA-S-2CNC","o":36,"x":64,"y":52.5},{"g":"b","s":"120PVA-S-2CNC","o":37,"x":67.3,"y":59.2},{"g":"b","s":"120PVA-S-2CNC","o":38,"x":67,"y":55},{"g":"b","s":"120PVA-S-2CNC","o":39,"x":66,"y":47},{"g":"b","s":"120PVA-S-2CNC","o":40,"x":64,"y":37},{"g":"b","s":"120PVA-S-2CNC","o":41,"x":60,"y":25.3},{"g":"b","s":"120PVA-S-2CNC","o":42,"x":55,"y":19.8},{"g":"b","s":"120PVA-S-2CNC","o":43,"x":50,"y":16.8},{"g":"b","s":"120PVA-S-2CNC","o":44,"x":45,"y":14.1},{"g":"b","s":"120PVA-S-2CNC","o":45,"x":37.5,"y":10.7},{"g":"b","s":"120PVA-S-2CNC","o":46,"x":30,"y":7.4},{"g":"b","s":"120PVA-S-2CNC","o":47,"x":22.5,"y":4.4},{"g":"b","s":"120PVA-S-2CNC","o":48,"x":15,"y":2.0},{"g":"b","s":"120PVA-S-2CNC","o":49,"x":7.5,"y":0.2},{"g":"b","s":"120PVA-S-2CNC","o":50,"x":2.5,"y":-0.5},
{"g":"b","s":"120PVA-S-2CNC","o":51,"x":5,"y":0.5},{"g":"b","s":"120PVA-S-2CNC","o":52,"x":10,"y":2.3},{"g":"b","s":"120PVA-S-2CNC","o":53,"x":15,"y":4.5},{"g":"b","s":"120PVA-S-2CNC","o":54,"x":22.5,"y":8.9},{"g":"b","s":"120PVA-S-2CNC","o":55,"x":30,"y":13.8},{"g":"b","s":"120PVA-S-2CNC","o":56,"x":37.5,"y":19.7},{"g":"b","s":"120PVA-S-2CNC","o":57,"x":45,"y":26.3},{"g":"b","s":"120PVA-S-2CNC","o":58,"x":52.5,"y":34.8},{"g":"b","s":"120PVA-S-2CNC","o":59,"x":60,"y":45},{"g":"b","s":"120PVA-S-2CNC","o":60,"x":64,"y":51.6},{"g":"b","s":"120PVA-S-2CNC","o":61,"x":67.5,"y":58.4},{"g":"b","s":"120PVA-S-2CNC","o":62,"x":67.2,"y":54},{"g":"b","s":"120PVA-S-2CNC","o":63,"x":66.1,"y":46.5},{"g":"b","s":"120PVA-S-2CNC","o":64,"x":64,"y":36.5},{"g":"b","s":"120PVA-S-2CNC","o":65,"x":60,"y":25},{"g":"b","s":"120PVA-S-2CNC","o":66,"x":55,"y":19.5},{"g":"b","s":"120PVA-S-2CNC","o":67,"x":50,"y":16.5},{"g":"b","s":"120PVA-S-2CNC","o":68,"x":45,"y":13.8},{"g":"b","s":"120PVA-S-2CNC","o":69,"x":37.5,"y":10.4},{"g":"b","s":"120PVA-S-2CNC","o":70,"x":30,"y":7.1},{"g":"b","s":"120PVA-S-2CNC","o":71,"x":22.5,"y":4.1},{"g":"b","s":"120PVA-S-2CNC","o":72,"x":15,"y":1.8},{"g":"b","s":"120PVA-S-2CNC","o":73,"x":7.5,"y":0.1},{"g":"b","s":"120PVA-S-2CNC","o":74,"x":3,"y":-0.5}
]},
"data": {"name": "d"},
"spacing": 19,
"vconcat": [
  {
    "spacing": 5,
    "vconcat": [
      {"spacing": 9, "hconcat": [
        {"transform": [{"filter": "datum.s == '10PVA-S'"}], "width": 347, "height": 213,
         "encoding": {"x": {"field": "x", "type": "quantitative", "scale": {"domain": [-2.6, 75], "nice": false, "zero": false}, "axis": {"values": [0, 15, 30, 45, 60, 75], "title": "Strain (%)"}}, "y": {"field": "y", "type": "quantitative", "scale": {"domain": [-2.3, 67.5], "nice": false, "zero": false}, "axis": {"values": [0, 15, 30, 45, 60], "title": "Stress (kPa)", "titlePadding": 6}}, "order": {"field": "o", "type": "quantitative"}},
         "layer": [{"mark": "line"}, {"transform": [{"filter": "datum.o == 1"}], "mark": "text", "encoding": {"x": {"datum": 0.3}, "y": {"datum": 59}, "text": {"field": "s"}}},
           {"transform": [{"filter": "datum.o == 1"}], "mark": {"type": "text", "font": "Liberation Sans", "fontSize": 32, "fontWeight": "bold"}, "encoding": {"x": {"datum": -12.8}, "y": {"datum": 60.3}, "text": {"value": "a"}}}]},
        {"transform": [{"filter": "datum.s == '10PVA-S-0.5CNC'"}], "width": 347, "height": 213,
         "encoding": {"x": {"field": "x", "type": "quantitative", "scale": {"domain": [-2.6, 75], "nice": false, "zero": false}, "axis": {"values": [0, 15, 30, 45, 60, 75], "title": "Strain (%)"}}, "y": {"field": "y", "type": "quantitative", "scale": {"domain": [-2.3, 67.5], "nice": false, "zero": false}, "axis": {"values": [0, 15, 30, 45, 60], "title": "Stress (kPa)", "titlePadding": 6}}, "order": {"field": "o", "type": "quantitative"}},
         "layer": [{"mark": "line"}, {"transform": [{"filter": "datum.o == 1"}], "mark": "text", "encoding": {"x": {"datum": 0.3}, "y": {"datum": 59}, "text": {"field": "s"}}}]}
      ]},
      {"spacing": 9, "hconcat": [
        {"transform": [{"filter": "datum.s == '10PVA-S-1CNC'"}], "width": 347, "height": 213,
         "encoding": {"x": {"field": "x", "type": "quantitative", "scale": {"domain": [-2.6, 75], "nice": false, "zero": false}, "axis": {"values": [0, 15, 30, 45, 60, 75], "title": "Strain (%)"}}, "y": {"field": "y", "type": "quantitative", "scale": {"domain": [-2.3, 67.5], "nice": false, "zero": false}, "axis": {"values": [0, 15, 30, 45, 60], "title": "Stress (kPa)", "titlePadding": 6}}, "order": {"field": "o", "type": "quantitative"}},
         "layer": [{"mark": "line"}, {"transform": [{"filter": "datum.o == 1"}], "mark": "text", "encoding": {"x": {"datum": 0.3}, "y": {"datum": 59}, "text": {"field": "s"}}}]},
        {"transform": [{"filter": "datum.s == '10PVA-S-1.5CNC'"}], "width": 347, "height": 213,
         "encoding": {"x": {"field": "x", "type": "quantitative", "scale": {"domain": [-2.6, 75], "nice": false, "zero": false}, "axis": {"values": [0, 15, 30, 45, 60, 75], "title": "Strain (%)"}}, "y": {"field": "y", "type": "quantitative", "scale": {"domain": [-2.3, 67.5], "nice": false, "zero": false}, "axis": {"values": [0, 15, 30, 45, 60], "title": "Stress (kPa)", "titlePadding": 6}}, "order": {"field": "o", "type": "quantitative"}},
         "layer": [{"mark": "line"}, {"transform": [{"filter": "datum.o == 1"}], "mark": "text", "encoding": {"x": {"datum": 0.3}, "y": {"datum": 59}, "text": {"field": "s"}}}]}
      ]},
      {"hconcat": [
        {"transform": [{"filter": "datum.s == '10PVA-S-2CNC'"}], "width": 347, "height": 213,
         "encoding": {"x": {"field": "x", "type": "quantitative", "scale": {"domain": [-2.6, 75], "nice": false, "zero": false}, "axis": {"values": [0, 15, 30, 45, 60, 75], "title": "Strain (%)"}}, "y": {"field": "y", "type": "quantitative", "scale": {"domain": [-2.3, 67.5], "nice": false, "zero": false}, "axis": {"values": [0, 15, 30, 45, 60], "title": "Stress (kPa)", "titlePadding": 6}}, "order": {"field": "o", "type": "quantitative"}},
         "layer": [{"mark": "line"}, {"transform": [{"filter": "datum.o == 1"}], "mark": "text", "encoding": {"x": {"datum": 0.3}, "y": {"datum": 59}, "text": {"field": "s"}}}]}
      ]}
    ]
  },
  {
    "spacing": 5,
    "vconcat": [
      {"spacing": 9, "hconcat": [
        {"transform": [{"filter": "datum.s == '120PVA-S'"}], "width": 347, "height": 213,
         "encoding": {"x": {"field": "x", "type": "quantitative", "scale": {"domain": [-2.45, 75], "nice": false, "zero": false}, "axis": {"values": [0, 15, 30, 45, 60, 75], "title": "Strain (%)"}}, "y": {"field": "y", "type": "quantitative", "scale": {"domain": [-5, 130], "nice": false, "zero": false}, "axis": {"values": [0, 40, 80, 120], "title": "Stress (kPa)", "titlePadding": 0}}, "order": {"field": "o", "type": "quantitative"}},
         "layer": [{"mark": "line"}, {"transform": [{"filter": "datum.o == 1"}], "mark": "text", "encoding": {"x": {"datum": -0.7}, "y": {"datum": 116}, "text": {"field": "s"}}},
           {"transform": [{"filter": "datum.o == 1"}], "mark": {"type": "text", "font": "Liberation Sans", "fontSize": 30, "fontWeight": "bold"}, "encoding": {"x": {"datum": -12.8}, "y": {"datum": 119.9}, "text": {"value": "b"}}}]},
        {"transform": [{"filter": "datum.s == '120PVA-S-0.5CNC'"}], "width": 347, "height": 213,
         "encoding": {"x": {"field": "x", "type": "quantitative", "scale": {"domain": [-2.45, 75], "nice": false, "zero": false}, "axis": {"values": [0, 15, 30, 45, 60, 75], "title": "Strain (%)"}}, "y": {"field": "y", "type": "quantitative", "scale": {"domain": [-5, 130], "nice": false, "zero": false}, "axis": {"values": [0, 40, 80, 120], "title": "Stress (kPa)", "titlePadding": 0}}, "order": {"field": "o", "type": "quantitative"}},
         "layer": [{"mark": "line"}, {"transform": [{"filter": "datum.o == 1"}], "mark": "text", "encoding": {"x": {"datum": -0.7}, "y": {"datum": 116}, "text": {"field": "s"}}}]}
      ]},
      {"spacing": 9, "hconcat": [
        {"transform": [{"filter": "datum.s == '120PVA-S-1CNC'"}], "width": 347, "height": 213,
         "encoding": {"x": {"field": "x", "type": "quantitative", "scale": {"domain": [-2.45, 75], "nice": false, "zero": false}, "axis": {"values": [0, 15, 30, 45, 60, 75], "title": "Strain (%)"}}, "y": {"field": "y", "type": "quantitative", "scale": {"domain": [-5, 130], "nice": false, "zero": false}, "axis": {"values": [0, 40, 80, 120], "title": "Stress (kPa)", "titlePadding": 0}}, "order": {"field": "o", "type": "quantitative"}},
         "layer": [{"mark": "line"}, {"transform": [{"filter": "datum.o == 1"}], "mark": "text", "encoding": {"x": {"datum": -0.7}, "y": {"datum": 116}, "text": {"field": "s"}}}]},
        {"transform": [{"filter": "datum.s == '120PVA-S-1.5CNC'"}], "width": 347, "height": 213,
         "encoding": {"x": {"field": "x", "type": "quantitative", "scale": {"domain": [-2.45, 75], "nice": false, "zero": false}, "axis": {"values": [0, 15, 30, 45, 60, 75], "title": "Strain (%)"}}, "y": {"field": "y", "type": "quantitative", "scale": {"domain": [-5, 130], "nice": false, "zero": false}, "axis": {"values": [0, 40, 80, 120], "title": "Stress (kPa)", "titlePadding": 0}}, "order": {"field": "o", "type": "quantitative"}},
         "layer": [{"mark": "line"}, {"transform": [{"filter": "datum.o == 1"}], "mark": "text", "encoding": {"x": {"datum": -0.7}, "y": {"datum": 116}, "text": {"field": "s"}}}]}
      ]},
      {"hconcat": [
        {"transform": [{"filter": "datum.s == '120PVA-S-2CNC'"}], "width": 347, "height": 213,
         "encoding": {"x": {"field": "x", "type": "quantitative", "scale": {"domain": [-2.45, 75], "nice": false, "zero": false}, "axis": {"values": [0, 15, 30, 45, 60, 75], "title": "Strain (%)"}}, "y": {"field": "y", "type": "quantitative", "scale": {"domain": [-5, 130], "nice": false, "zero": false}, "axis": {"values": [0, 40, 80, 120], "title": "Stress (kPa)", "titlePadding": 0}}, "order": {"field": "o", "type": "quantitative"}},
         "layer": [{"mark": "line"}, {"transform": [{"filter": "datum.o == 1"}], "mark": "text", "encoding": {"x": {"datum": -0.7}, "y": {"datum": 116}, "text": {"field": "s"}}}]}
      ]}
    ]
  }
]
}
